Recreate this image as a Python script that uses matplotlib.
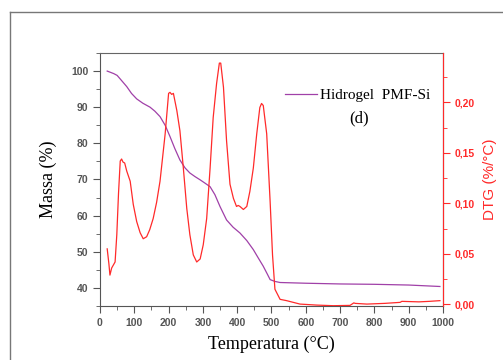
import matplotlib.pyplot as plt
from matplotlib.ticker import MultipleLocator, FuncFormatter
from matplotlib.lines import Line2D

# curva de massa (TG)
temp_tg = [21, 40, 50, 60, 78, 92, 107, 125, 146, 160, 175, 190, 204, 218, 233,
           248, 262, 277, 292, 306, 321, 335, 350, 369, 388, 408, 428, 447,
           462, 476, 488, 496, 510, 525, 600, 700, 800, 900, 991]
massa = [100, 99.3, 98.8, 97.7, 95.7, 93.8, 92.3, 91.1, 90, 88.9, 87.4, 85,
         81.9, 78.6, 75.4, 73.2, 71.8, 70.8, 69.9, 69.0, 68, 65.8, 62.5, 58.8,
         56.8, 55.2, 53.1, 50.6, 48.2, 46, 43.8, 42.3, 41.8, 41.5, 41.3, 41.1,
         41.0, 40.8, 40.4]

# curva DTG
temp_dtg = [21, 26, 29, 34, 39, 44, 49, 54, 59, 63, 67, 72, 78, 88, 97, 107, 117,
            126, 136, 145, 155, 165, 175, 190, 200, 204, 209, 214, 224, 233, 243,
            253, 262, 272, 282, 292, 301, 311, 321, 330, 340, 348, 352, 360, 369,
            379, 389, 398, 403, 408, 418, 428, 437, 447, 457, 466, 471, 476, 486,
            496, 503, 510, 525, 544, 583, 632, 680, 729, 740, 744, 778, 830, 875,
            880, 930, 960, 991]
dtg = [0.055, 0.040, 0.029, 0.036, 0.039, 0.042, 0.069, 0.110, 0.142, 0.144,
       0.141, 0.140, 0.132, 0.122, 0.099, 0.082, 0.071, 0.065, 0.067, 0.074,
       0.085, 0.101, 0.122, 0.169, 0.209, 0.210, 0.208, 0.209, 0.192, 0.172,
       0.135, 0.095, 0.069, 0.049, 0.042, 0.045, 0.059, 0.085, 0.135, 0.185,
       0.219, 0.239, 0.239, 0.215, 0.162, 0.119, 0.105, 0.097, 0.098, 0.097,
       0.094, 0.097, 0.112, 0.135, 0.169, 0.195, 0.199, 0.197, 0.169, 0.102,
       0.049, 0.015, 0.005, 0.0037, 0.0003, -0.0007, -0.0013, -0.001, 0.0015,
       0.001, 0.0003, 0.001, 0.002, 0.003, 0.0025, 0.003, 0.0037]

roxo = '#a040a8'
vermelho = '#ff2a2a'
cinza = '#555555'

fig = plt.figure(figsize=(5.03, 3.6), dpi=100)
ax = fig.add_axes([0.1988, 0.15, 0.6819, 0.7028])
ax2 = ax.twinx()

ax.plot(temp_tg, massa, color=roxo, lw=0.9)
ax2.plot(temp_dtg, dtg, color=vermelho, lw=0.9)

ax.set_xlim(0, 1000)
ax.set_ylim(35, 105)
ax2.set_ylim(-0.0016, 0.249)

ax.xaxis.set_major_locator(MultipleLocator(100))
ax.xaxis.set_minor_locator(MultipleLocator(50))
ax.yaxis.set_major_locator(MultipleLocator(10))
ax.yaxis.set_minor_locator(MultipleLocator(5))
ax2.yaxis.set_major_locator(MultipleLocator(0.05))
ax2.yaxis.set_minor_locator(MultipleLocator(0.025))
ax2.yaxis.set_major_formatter(FuncFormatter(lambda v, p: f'{v:.2f}'.replace('.', ',')))

ax.spines['top'].set_color('#666666')
ax.spines['left'].set_color(cinza)
ax.spines['bottom'].set_color(cinza)
ax2.spines['right'].set_color(vermelho)
for s in ['top', 'left', 'bottom']:
    ax2.spines[s].set_visible(False)

ax.tick_params(axis='both', which='major', direction='out', length=5, color=cinza,
               labelsize=7.5, labelcolor=cinza)
ax.tick_params(axis='both', which='minor', direction='out', length=3, color=cinza)
ax2.tick_params(axis='y', which='major', direction='out', length=5, color=vermelho,
                labelsize=7.5, labelcolor=vermelho)
ax2.tick_params(axis='y', which='minor', direction='out', length=3, color=vermelho)
for lab in ax.get_xticklabels() + ax.get_yticklabels() + ax2.get_yticklabels():
    lab.set_fontweight('bold')
    lab.set_family('Liberation Sans')

ax.set_xlabel('Temperatura (°C)', family='Liberation Serif', fontsize=13, labelpad=6)
ax.set_ylabel('Massa (%)', family='Liberation Serif', fontsize=13, labelpad=10)
ax2.set_ylabel('DTG (%/°C)', family='Liberation Sans', fontsize=11, color=vermelho, labelpad=6)

# legenda
ax.legend([Line2D([0], [0], color=roxo, lw=0.9)], ['Hidrogel  PMF-Si'],
          loc='upper left', bbox_to_anchor=(0.50, 0.915), frameon=False,
          handlelength=2.1, handletextpad=0.2,
          prop={'family': 'Liberation Serif', 'size': 11})
ax.text(0.756, 0.742, '(d)', transform=ax.transAxes, ha='center', va='center',
        family='Liberation Serif', fontsize=12)

# moldura cinza
fig.add_artist(Line2D([10 / 503, 1], [1 - 12 / 360, 1 - 12 / 360], color='#777777', lw=1))
fig.add_artist(Line2D([10 / 503, 10 / 503], [0, 1 - 12 / 360], color='#777777', lw=1))

fig.savefig('out.png', dpi=100)
